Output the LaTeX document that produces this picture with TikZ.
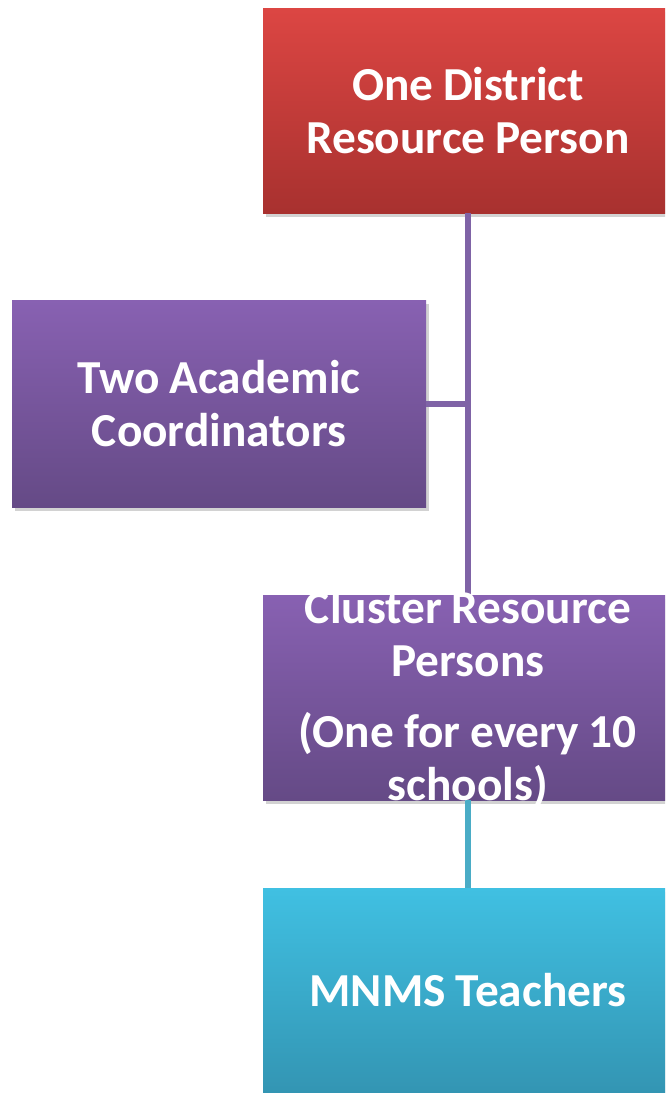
\documentclass[tikz,border=0pt]{standalone}
\usepackage{fontspec}
\setmainfont[WordSpace=0.92]{Carlito}
\usetikzlibrary{shadows,calc}
\definecolor{redtop}{HTML}{DC4643}
\definecolor{redbot}{HTML}{A8312F}
\definecolor{purtop}{HTML}{8861B2}
\definecolor{purbot}{HTML}{654A86}
\definecolor{cyantop}{HTML}{40C0E2}
\definecolor{cyanbot}{HTML}{3395B3}
\definecolor{purline}{HTML}{7F63A6}
\definecolor{cyanline}{HTML}{4AACC6}
\tikzset{
  box/.style={rectangle, minimum width=410*0.75pt, minimum height=205*0.75pt,
    inner sep=0pt,
    drop shadow={shadow xshift=2pt, shadow yshift=-3pt, opacity=0.35}},
  boxtext/.style={inner sep=0pt, align=center, text=white,
    font=\fontsize{35.5}{39.5}\selectfont\bfseries},
  redbox/.style={box, top color=redtop, bottom color=redbot},
  purbox/.style={box, top color=purtop, bottom color=purbot},
  cyanbox/.style={box, top color=cyantop, bottom color=cyanbot},
  conn/.style={line width=4.5pt},
}
\begin{document}
\begin{tikzpicture}[x=0.75pt,y=-0.75pt]
\clip (0,0) rectangle (665,1093);
\fill[white] (0,0) rectangle (665,1093);
% boxes
\node[redbox] (dist) at (468,110.5) {};
\node[purbox, minimum width=414*0.75pt, minimum height=207*0.75pt] (acad) at (219,403.5) {};
\node[purbox] (crp) at (468,697.5) {};
\node[cyanbox] (mnms) at (468,990.5) {};
% connectors
\draw[conn, purline] (dist.south) -- (crp.north);
\draw[conn, purline] (acad.east) -- (acad.east -| dist.south);
\draw[conn, cyanline] (crp.south) -- (mnms.north);
% texts
\node[boxtext] (t1) at (dist.center) {One District\\Resource Person};
\node[boxtext] (t2) at (acad.center) {Two Academic\\Coordinators};
\node[boxtext] (t3) at ([yshift=-1pt]crp.center) {Cluster Resource\\Persons\\[14pt](One for every 10\\schools)};
\node[boxtext] (t4) at (mnms.center) {MNMS Teachers};
\end{tikzpicture}
\end{document}
